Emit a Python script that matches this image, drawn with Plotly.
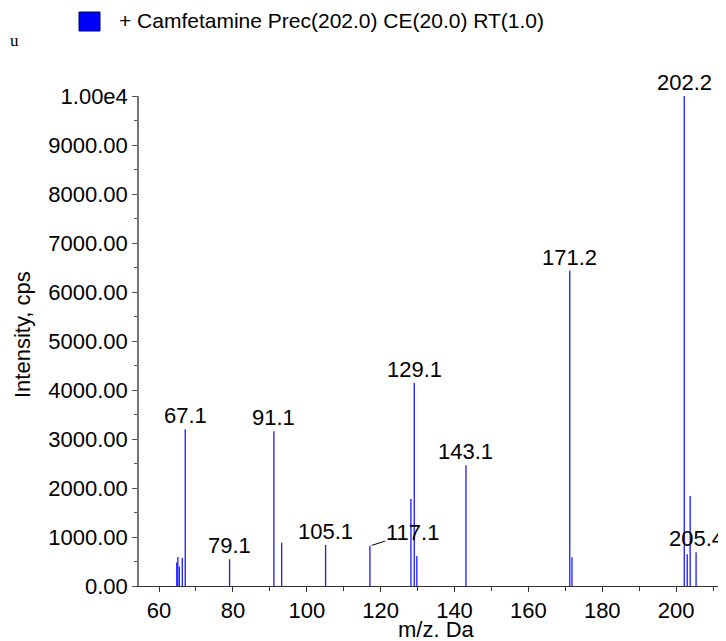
import plotly.graph_objects as go

# ---- data ----
mz = [64.8, 65.1, 65.5, 66.3, 67.1, 79.1, 91.1, 93.2, 105.1, 117.1,
      128.2, 129.1, 129.8, 143.1, 171.2, 171.8, 202.2, 203.0, 203.8, 205.4]
intensity = [480, 590, 400, 570, 3200, 545, 3160, 885, 837, 816,
             1775, 4150, 612, 2463, 6435, 585, 10000, 650, 1837, 688]

label_mz = [67.1, 79.1, 91.1, 105.1, 129.1, 143.1, 171.2, 202.2, 205.4]
label_text = ["67.1", "79.1", "91.1", "105.1", "129.1", "143.1", "171.2", "202.2", "205.4"]
offset_label_mz = 117.1
offset_label_text = "117.1"

x_tickvals = [60, 80, 100, 120, 140, 160, 180, 200]
y_tickvals = [0, 1000, 2000, 3000, 4000, 5000, 6000, 7000, 8000, 9000, 10000]
y_ticktext = ["0.00", "1000.00", "2000.00", "3000.00", "4000.00", "5000.00",
              "6000.00", "7000.00", "8000.00", "9000.00", "1.00e4"]

title_text = "+ Camfetamine Prec(202.0) CE(20.0) RT(1.0)"
x_title = "m/z. Da"
y_title = "Intensity, cps"

FONT = "Liberation Sans, Arial, sans-serif"
OFF = 8                      # page body margin
PAGE_W, PAGE_H = 726, 641
W, H = PAGE_W - OFF, PAGE_H - OFF
L, R, T, B = 139 - OFF, 0, 96 - OFF, PAGE_H - 586
PW, PH = W - L - R, H - T - B
XMIN, XMAX = 54.58, 213.5


def px(xp):
    """page pixel x -> paper coordinate"""
    return (xp - OFF - L) / PW


def py(yp):
    """page pixel y -> paper coordinate"""
    return (H - B - (yp - OFF)) / PH


# stick spectrum built from the data
xs, ys = [], []
for m, v in zip(mz, intensity):
    xs += [m, m, None]
    ys += [0, v, None]

fig = go.Figure()
fig.add_trace(go.Scatter(x=xs, y=ys, mode="lines",
                         line=dict(color="#1a1aff", width=1.3),
                         hoverinfo="skip", showlegend=False))

# blue marker at the origin of the y axis
fig.add_trace(go.Scatter(x=[XMIN - 1.9], y=[0], mode="markers",
                         marker=dict(symbol="triangle-right", size=14, color="#0000ff",
                                     line=dict(color="#000080", width=0.5)),
                         cliponaxis=False, hoverinfo="skip", showlegend=False))

annotations = []
lookup = dict(zip(mz, intensity))
for m, t in zip(label_mz, label_text):
    annotations.append(dict(x=m, y=lookup[m], text=t, showarrow=False,
                            xanchor="center", yanchor="bottom", yshift=-1,
                            font=dict(family=FONT, size=22, color="black")))
annotations.append(dict(x=offset_label_mz, y=lookup[offset_label_mz], text=offset_label_text,
                        showarrow=True, arrowhead=0, arrowwidth=1, arrowcolor="black",
                        ax=43, ay=-14, standoff=2,
                        font=dict(family=FONT, size=22, color="black")))

# legend-like header
annotations.append(dict(xref="paper", yref="paper", x=px(117), y=py(21), text=title_text,
                        showarrow=False, xanchor="left", yanchor="middle",
                        font=dict(family=FONT, size=21, color="black")))
# cropped fragment at left edge
annotations.append(dict(xref="paper", yref="paper", x=px(OFF), y=py(41), text="u",
                        showarrow=False, xanchor="left", yanchor="middle",
                        font=dict(family="Liberation Serif, Times New Roman, serif", size=17,
                                  color="black")))
# axis titles
annotations.append(dict(xref="paper", yref="paper", x=px(437), y=py(629), text=x_title,
                        showarrow=False, xanchor="center", yanchor="middle",
                        font=dict(family=FONT, size=22, color="black")))
annotations.append(dict(xref="paper", yref="paper", x=px(22), y=py(335), text=y_title,
                        showarrow=False, xanchor="center", yanchor="middle", textangle=-90,
                        font=dict(family=FONT, size=22, color="black")))

shapes = [
    dict(type="line", xref="paper", yref="paper", x0=px(OFF), x1=px(PAGE_W), y0=py(7), y1=py(7),
         line=dict(color="#333333", width=1.5)),
    dict(type="rect", xref="paper", yref="paper", x0=px(79), x1=px(100), y0=py(31), y1=py(12),
         fillcolor="#0000ff", line=dict(color="#000060", width=1)),
]

fig.update_layout(
    width=W, height=H,
    margin=dict(l=L, r=R, t=T, b=B, pad=0),
    plot_bgcolor="white", paper_bgcolor="white",
    showlegend=False,
    annotations=annotations, shapes=shapes,
    xaxis=dict(range=[XMIN, XMAX], tickvals=x_tickvals, ticks="outside", ticklen=5,
               tickcolor="#333333", showline=True, linecolor="#333333", linewidth=1,
               showgrid=False, zeroline=False,
               tickfont=dict(family=FONT, size=22, color="black"),
               minor=dict(dtick=10, tick0=0, ticks="outside", ticklen=4, tickcolor="#333333")),
    yaxis=dict(range=[0, 10000], tickvals=y_tickvals, ticktext=y_ticktext,
               ticks="outside", ticklen=5, tickcolor="#555555",
               showline=True, linecolor="#777777", linewidth=1.5,
               showgrid=False, zeroline=False,
               tickfont=dict(family=FONT, size=22, color="black"),
               minor=dict(dtick=500, tick0=0, ticks="outside", ticklen=3, tickcolor="#555555")),
)

fig.write_html("out.html")
